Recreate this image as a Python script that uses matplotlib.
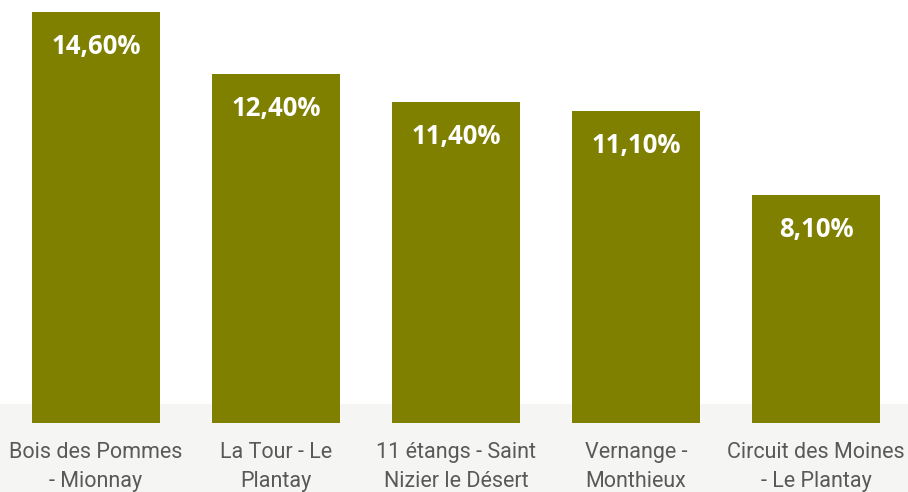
import matplotlib.pyplot as plt
from matplotlib.patches import Rectangle
import numpy as np

categories = ["Bois des Pommes\n- Mionnay", "La Tour - Le\nPlantay", "11 étangs - Saint\nNizier le Désert",
              "Vernange -\nMonthieux", "Circuit des Moines\n- Le Plantay"]
values = [14.6, 12.4, 11.4, 11.1, 8.1]
value_labels = ["14,60%", "12,40%", "11,40%", "11,10%", "8,10%"]

fig = plt.figure(figsize=(9.08, 4.92), dpi=100)
# faint grey band behind the labels
fig.patches.append(Rectangle((0, 0), 1, 88 / 492, transform=fig.transFigure,
                             facecolor='#f5f5f3', edgecolor='none', zorder=-5))
ax = fig.add_axes([0, 69 / 492, 1, 423 / 492])
ax.patch.set_alpha(0)

x = np.arange(len(values))
ax.bar(x, values, width=128 / 180, color='#808000')
ax.set_xlim(-96 / 180, 812 / 180)
ax.set_ylim(0, 423 / 28.15)

for xi, v, lab in zip(x, values, value_labels):
    ax.annotate(lab, (xi, v), xytext=(0, -25), textcoords='offset points',
                ha='center', va='center', color='white', fontsize=18.5,
                fontweight='bold', family=['Open Sans', 'DejaVu Sans'])

ax.set_xticks(x)
ax.set_xticklabels(categories, fontsize=15.5, color='#595959',
                   family=['Roboto', 'DejaVu Sans'], linespacing=1.45)
ax.tick_params(axis='x', length=0, pad=14)
ax.set_yticks([])
for s in ax.spines.values():
    s.set_visible(False)

fig.savefig('out.png', dpi=100)
